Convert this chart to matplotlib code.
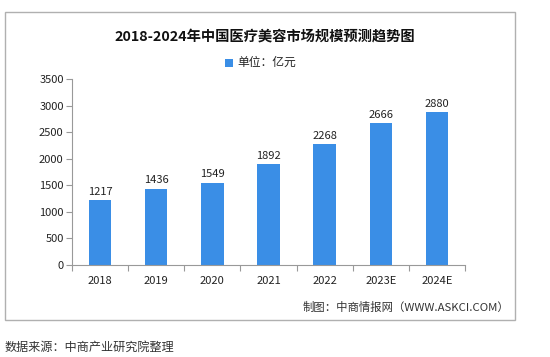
import matplotlib
matplotlib.use("Agg")
import matplotlib.pyplot as plt
from matplotlib.patches import Rectangle

plt.rcParams['font.family'] = ['Noto Sans CJK SC', 'DejaVu Sans']

years = ["2018", "2019", "2020", "2021", "2022", "2023E", "2024E"]
values = [1217, 1436, 1549, 1892, 2268, 2666, 2880]
yticks = [0, 500, 1000, 1500, 2000, 2500, 3000, 3500]

W, H = 550, 357
fig = plt.figure(figsize=(W/100, H/100), dpi=100)
fig.patch.set_facecolor('white')

# outer frame
fig.patches.append(Rectangle((5/W, 1-320/H), 510/W, 308/H, transform=fig.transFigure,
                             fill=False, edgecolor='#b0b0b0', linewidth=1.0))

ax = fig.add_axes([72/W, 1-265/H, 393/W, 186/H])
color = '#3a8ee6'
x = range(len(years))
bars = ax.bar(x, values, width=0.4, color=color, zorder=2)
for xi, v in zip(x, values):
    ax.text(xi, v + 60, str(v), ha='center', va='bottom', fontsize=8, color='#222222')

ax.set_xlim(-0.5, len(years) - 0.5)
ax.set_ylim(0, 3500)
ax.set_yticks(yticks)
ax.set_yticklabels([str(t) for t in yticks], fontsize=8, color='#222222')
ax.set_xticks([i - 0.5 for i in range(len(years) + 1)], minor=False)
ax.set_xticklabels([''] * (len(years) + 1))
ax.set_xticks(list(x), minor=True)
ax.set_xticklabels(years, minor=True, fontsize=8, color='#222222')
ax.tick_params(axis='x', which='major', length=4, color='#999999')
ax.tick_params(axis='x', which='minor', length=0, pad=8)
ax.tick_params(axis='y', length=4, color='#999999', pad=2)
for s in ['top', 'right']:
    ax.spines[s].set_visible(False)
ax.spines['left'].set_color('#999999')
ax.spines['bottom'].set_color('#999999')

fig.text(265/W, 1-37/H, "2018-2024年中国医疗美容市场规模预测趋势图", ha='center', va='center',
         fontsize=10.3, fontweight='bold', color='#111111')
fig.patches.append(Rectangle((225/W, 1-67/H), 8/W, 8/H, transform=fig.transFigure,
                             facecolor=color, edgecolor='none'))
fig.text(237/W, 1-62/H, "单位：亿元", ha='left', va='center', fontsize=8.5, color='#222222')

fig.text(509/W, 1-307/H, "制图：中商情报网（WWW.ASKCI.COM）", ha='right', va='center',
         fontsize=8.2, color='#333333')
fig.text(5/W, 1-347/H, "数据来源：中商产业研究院整理", ha='left', va='center',
         fontsize=8.7, color='#333333')

fig.savefig("out.png", dpi=100)
